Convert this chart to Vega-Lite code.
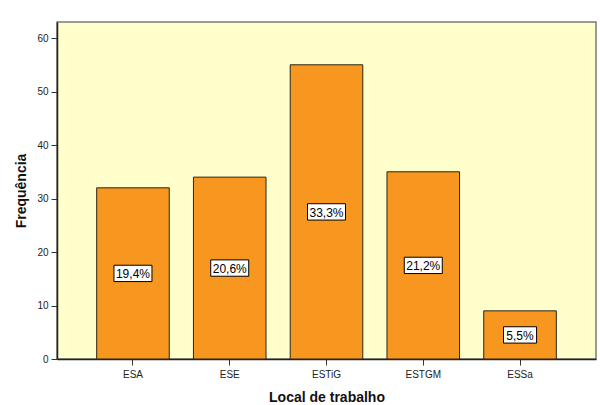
{
  "$schema": "https://vega.github.io/schema/vega-lite/v6.json",
  "width": 539,
  "height": 337,
  "autosize": "none",
  "padding": {"left": 57, "top": 22, "right": 4, "bottom": 46},
  "background": "white",
  "config": {
    "font": "Liberation Sans",
    "view": {"fill": "#FFFFCC", "stroke": "#7a7a7a", "strokeWidth": 1.5},
    "axis": {"labelFont": "Liberation Sans", "titleFont": "Liberation Sans", "labelColor": "#222222", "labelFontSize": 10, "grid": false, "domainColor": "#222222", "tickColor": "#333333", "tickSize": 6, "titleFontSize": 14, "titleFontWeight": "bold", "titleColor": "#111111"}
  },
  "data": {
    "values": [
      {"Local": "ESA", "Freq": 32, "Pct": "19,4%"},
      {"Local": "ESE", "Freq": 34, "Pct": "20,6%"},
      {"Local": "ESTiG", "Freq": 55, "Pct": "33,3%"},
      {"Local": "ESTGM", "Freq": 35, "Pct": "21,2%"},
      {"Local": "ESSa", "Freq": 9, "Pct": "5,5%"}
    ]
  },
  "encoding": {
    "x": {
      "field": "Local", "type": "nominal", "sort": null,
      "scale": {"paddingInner": 0.25, "paddingOuter": 0.41},
      "axis": {"title": "Local de trabalho", "labelAngle": 0, "labelPadding": 4, "titleY": 42, "titleBaseline": "alphabetic", "domainWidth": 1.5}
    }
  },
  "layer": [
    {
      "mark": {"type": "bar", "fill": "#F7971F", "stroke": "#2b2417", "strokeWidth": 1},
      "encoding": {
        "y": {
          "field": "Freq", "type": "quantitative",
          "scale": {"domain": [0, 63], "nice": false},
          "axis": {"title": "Frequência", "values": [0, 10, 20, 30, 40, 50, 60], "labelPadding": 3, "titleX": -32, "titleBaseline": "alphabetic", "domainWidth": 1.5}
        }
      }
    },
    {
      "encoding": {
        "y": {"field": "Freq", "type": "quantitative", "scale": {"domain": [0, 126], "nice": false}, "axis": null}
      },
      "layer": [
        {
          "mark": {"type": "point", "filled": true, "fill": "white", "stroke": "black", "strokeWidth": 1, "opacity": 1, "size": 1444},
          "encoding": {
            "shape": {"condition": {"test": "length(datum.Pct) < 5", "value": "M-0.87,-0.43H0.87V0.43H-0.87Z"}, "value": "M-1,-0.43H1V0.43H-1Z"}
          }
        },
        {
          "mark": {"type": "text", "fontSize": 12, "color": "black", "font": "Liberation Sans", "baseline": "middle", "dy": 1},
          "encoding": {"text": {"field": "Pct"}}
        }
      ]
    }
  ],
  "resolve": {"scale": {"y": "independent"}}
}
